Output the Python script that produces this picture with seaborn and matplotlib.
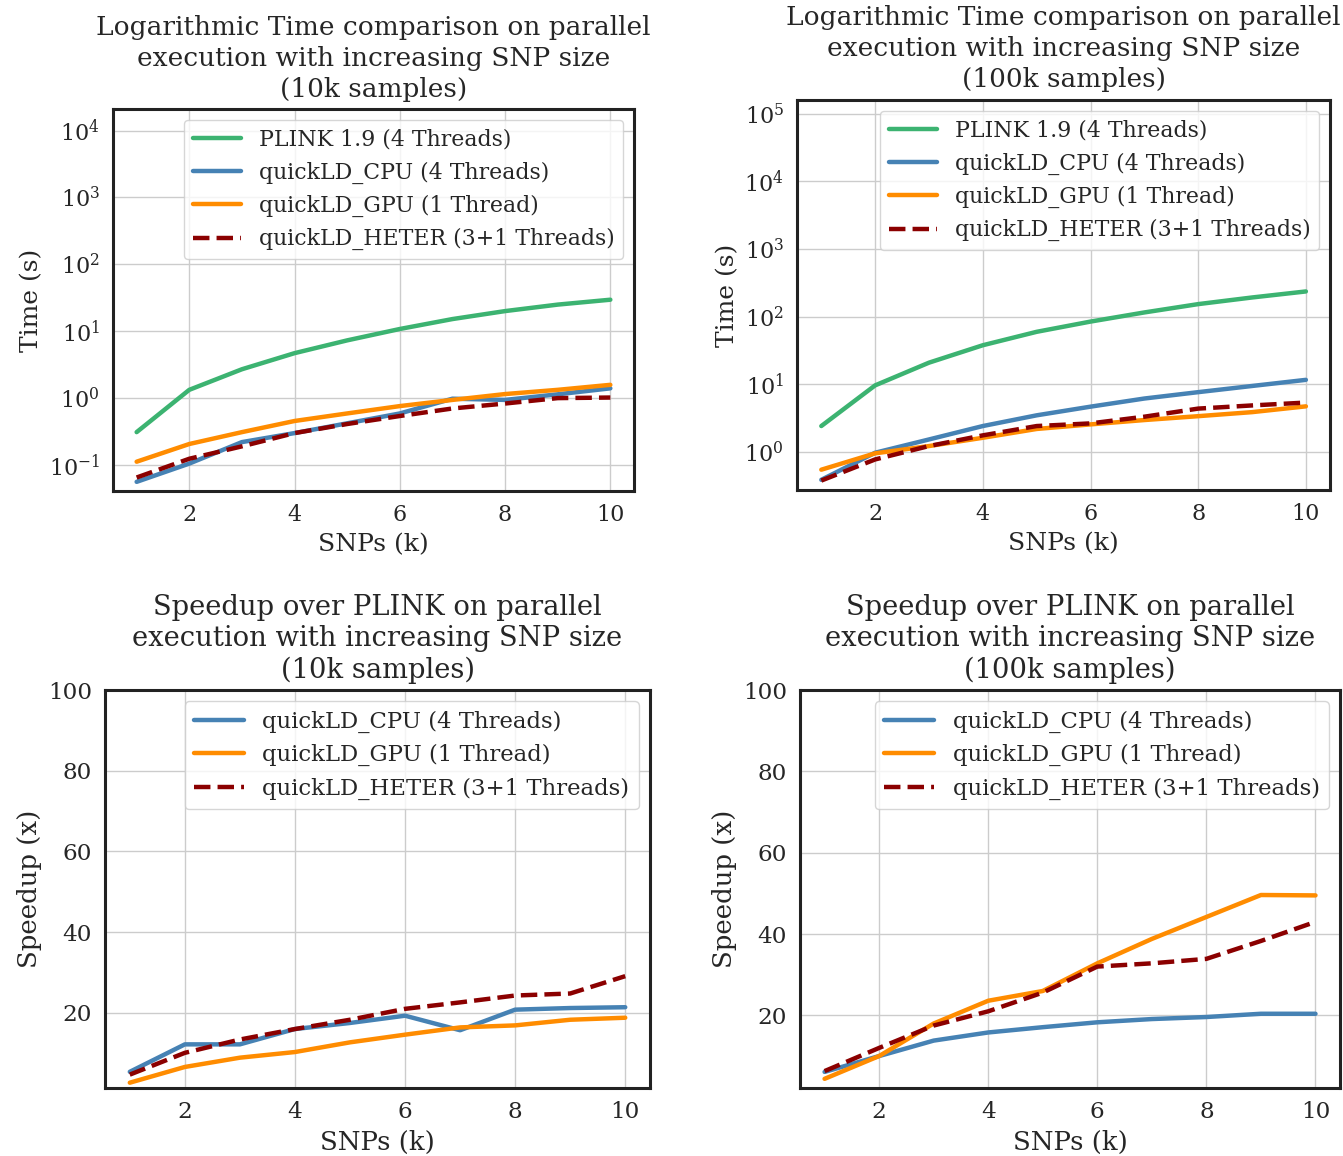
import pandas as pd
import seaborn as sns
import matplotlib.pyplot as plt

# ==========================================
# DATA
# ==========================================

snps = [1, 2, 3, 4, 5, 6, 7, 8, 9, 10]

# time (s), 10k samples
time10k_plink = [0.31, 1.33, 2.7, 4.7, 7.3, 10.8, 15.2, 20, 25, 29.6]
time10k_cpu = [0.056, 0.105, 0.22, 0.30, 0.42, 0.59, 0.98, 0.94, 1.14, 1.40]
time10k_gpu = [0.112, 0.206, 0.31, 0.455, 0.59, 0.76, 0.94, 1.15, 1.33, 1.58]
time10k_heter = [0.065, 0.124, 0.19, 0.30, 0.41, 0.54, 0.70, 0.83, 1.0, 1.02]

# time (s), 100k samples
time100k_plink = [2.43, 9.7, 21, 38, 60, 85, 116, 154, 193, 237]
time100k_cpu = [0.39, 0.98, 1.54, 2.43, 3.5, 4.7, 6.2, 7.7, 9.5, 11.7]
time100k_gpu = [0.55, 0.96, 1.23, 1.63, 2.2, 2.57, 2.98, 3.4, 3.9, 4.75]
time100k_heter = [0.38, 0.78, 1.23, 1.77, 2.43, 2.66, 3.34, 4.4, 4.9, 5.4]

# speedup over PLINK, 10k samples
speed10k_cpu = [5.4, 12.2, 12.2, 16.0, 17.5, 19.3, 15.7, 20.8, 21.2, 21.4]
speed10k_gpu = [2.7, 6.6, 8.9, 10.3, 12.7, 14.6, 16.4, 16.9, 18.3, 18.8]
speed10k_heter = [4.7, 10.1, 13.4, 16.0, 18.3, 21.0, 22.6, 24.3, 24.8, 29.1]

# speedup over PLINK, 100k samples
speed100k_cpu = [6.1, 10.0, 13.8, 15.8, 17.1, 18.3, 19.1, 19.6, 20.4, 20.4]
speed100k_gpu = [4.4, 10.0, 18.0, 23.6, 26.0, 32.8, 38.8, 44.2, 49.6, 49.5]
speed100k_heter = [6.3, 12.0, 17.5, 21.0, 25.6, 32.0, 32.8, 33.9, 38.3, 43.0]

labels = {
    "plink": "PLINK 1.9 (4 Threads)",
    "cpu": "quickLD_CPU (4 Threads)",
    "gpu": "quickLD_GPU (1 Thread)",
    "heter": "quickLD_HETER (3+1 Threads)",
}
colors = {"plink": "mediumseagreen", "cpu": "steelblue",
          "gpu": "darkorange", "heter": "darkred"}
styles = {"plink": "-", "cpu": "-", "gpu": "-", "heter": "--"}

sns.set_theme(style="whitegrid")
plt.rcParams["font.family"] = ["DejaVu Serif"]
plt.rcParams["mathtext.fontset"] = "dejavuserif"
plt.rcParams["axes.edgecolor"] = "#222222"
plt.rcParams["axes.linewidth"] = 2.2


def draw_panel(ax, series, title, ylabel, log=False, ytop=None, scale=1.0,
               spacing=1.3):
    for key, vals in series.items():
        sns.lineplot(x=snps, y=vals, ax=ax, label=labels[key],
                     color=colors[key], linestyle=styles[key], linewidth=3.2)
    if log:
        ax.set_yscale("log")
    if ytop is not None:
        ax.set_ylim(top=ytop)
    ax.set_title(title, fontsize=19 * scale, linespacing=spacing, pad=9)
    ax.set_xlabel("SNPs (k)", fontsize=18 * scale, labelpad=5)
    ax.set_ylabel(ylabel, fontsize=18 * scale)
    ax.tick_params(labelsize=16 * scale)
    ax.legend(loc="upper right", fontsize=15.8 * scale, handlelength=2.2)


fig = plt.figure(figsize=(13.43, 11.56), dpi=100)

ax1 = fig.add_axes([0.0841, 0.5753, 0.388, 0.3304])
ax2 = fig.add_axes([0.5935, 0.5761, 0.3969, 0.3374])
ax3 = fig.add_axes([0.0782, 0.0588, 0.4058, 0.3443])
ax4 = fig.add_axes([0.5957, 0.0588, 0.4021, 0.3443])

draw_panel(ax1,
           {"plink": time10k_plink, "cpu": time10k_cpu,
            "gpu": time10k_gpu, "heter": time10k_heter},
           "Logarithmic Time comparison on parallel\n"
           "execution with increasing SNP size\n(10k samples)",
           "Time (s)", log=True, ytop=2.1e4)
draw_panel(ax2,
           {"plink": time100k_plink, "cpu": time100k_cpu,
            "gpu": time100k_gpu, "heter": time100k_heter},
           "Logarithmic Time comparison on parallel\n"
           "execution with increasing SNP size\n(100k samples)",
           "Time (s)", log=True, ytop=1.6e5)
draw_panel(ax3,
           {"cpu": speed10k_cpu, "gpu": speed10k_gpu, "heter": speed10k_heter},
           "Speedup over PLINK on parallel\n"
           "execution with increasing SNP size\n(10k samples)",
           "Speedup (x)", ytop=100, scale=1.04, spacing=1.2)
draw_panel(ax4,
           {"cpu": speed100k_cpu, "gpu": speed100k_gpu, "heter": speed100k_heter},
           "Speedup over PLINK on parallel\n"
           "execution with increasing SNP size\n(100k samples)",
           "Speedup (x)", ytop=100, scale=1.04, spacing=1.2)

plt.savefig("out.png", dpi=100)
plt.close()
